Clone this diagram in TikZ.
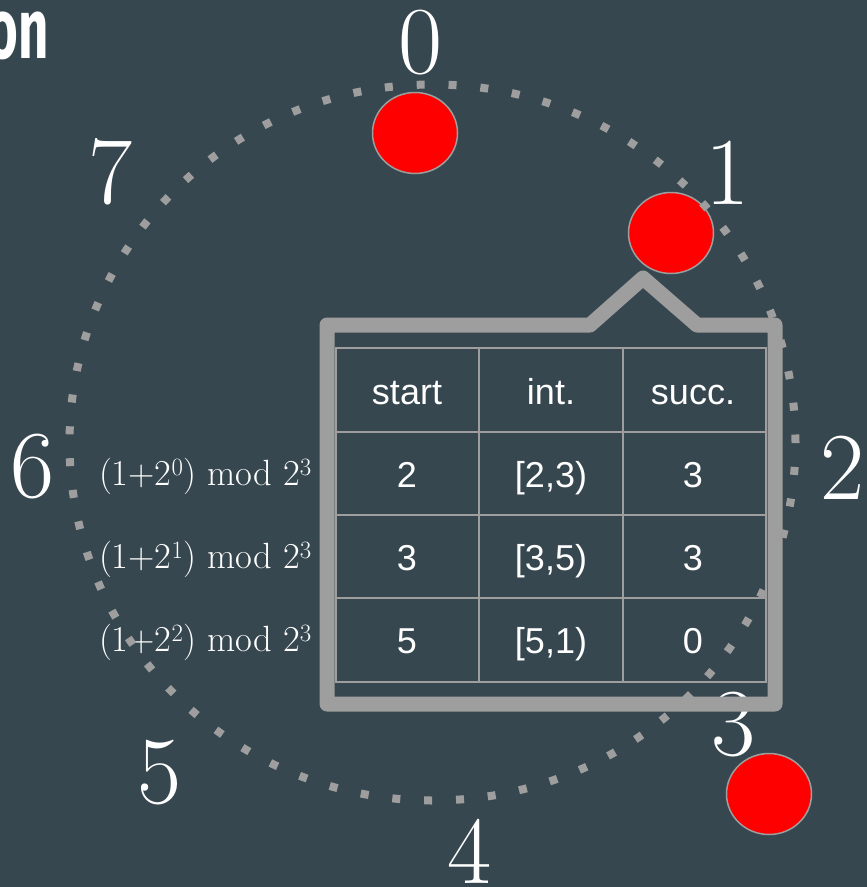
\documentclass[tikz,border=0pt]{standalone}
\usepackage{fontspec}
\newfontfamily\tablefont{Liberation Sans}
\newfontfamily\titlefont{Fira Sans}
\usetikzlibrary{shapes.geometric}

\definecolor{slate}{HTML}{37474F}
\definecolor{frame}{HTML}{9E9E9E}

\tikzset{
  ringnum/.style={text=white, inner sep=0pt, font=\fontsize{96}{96}\selectfont},
  peer/.style={ellipse, draw=frame, line width=1.5pt, fill=red,
    minimum width=85pt, minimum height=81pt, inner sep=0pt},
  celltext/.style={text=white, anchor=base, inner sep=0pt,
    font=\tablefont\fontsize{36}{36}\selectfont},
  rowlabel/.style={text=white, anchor=base east, inner sep=0pt,
    font=\fontsize{36.5}{36.5}\selectfont},
}

\begin{document}
\begin{tikzpicture}[x=1pt,y=-1pt]
  \fill[slate] (0,0) rectangle (867,887);
  \useasboundingbox (0,0) rectangle (867,887);

  % title fragment
  \node[anchor=base east, inner sep=0pt, text=white,
    font=\titlefont\bfseries\fontsize{85}{85}\selectfont] (title) at (49,58)
    {\scalebox{0.62}[1]{on}};

  % ring positions
  \foreach \n/\p in {0/{421,43}, 1/{728,173}, 2/{843,468}, 3/{734,725},
                     4/{470,851}, 5/{160,773}, 6/{33,467}, 7/{111,172}}{
    \node[ringnum] (lab\n) at (\p) {\n};
  }

  % peers
  \node[peer] (n0) at (415,133) {};
  \node[peer] (n1) at (671,233) {};
  \node[peer] (n3) at (769,794) {};

  % callout frame
  \draw[frame, line width=15pt, line join=round]
    (327,325) -- (590,325) -- (643,278) -- (697,325) -- (775,325)
    -- (775,704) -- (327,704) -- cycle;

  % finger table grid
  \draw[frame, line width=2pt] (336,348) rectangle (766,682);
  \foreach \y in {432,515,598}
    \draw[frame, line width=2pt] (336,\y) -- (766,\y);
  \foreach \x in {479,623}
    \draw[frame, line width=2pt] (\x,348) -- (\x,682);

  \node[celltext] (hstart) at (407,404) {start};
  \node[celltext] (hint) at (551,404) {int.};
  \node[celltext] (hsucc) at (693,404) {succ.};
  \foreach \s/\iv/\sc/\y/\k in {2/{[2,3)}/3/487/0, 3/{[3,5)}/3/570/1, 5/{[5,1)}/0/653/2}{
    \node[celltext] (start\k) at (407,\y) {\s};
    \node[celltext] (int\k) at (551,\y) {\iv};
    \node[celltext] (succ\k) at (693,\y) {\sc};
    \node[rowlabel] (finger\k) at (312,\y-2) {(1+2$^{\k}$) mod 2$^3$};
  }

  % identifier ring
  \draw[frame, line width=8pt, dash pattern=on 8pt off 23.9pt]
    (432.5,442.5) ellipse [x radius=363pt, y radius=358pt];
\end{tikzpicture}
\end{document}
